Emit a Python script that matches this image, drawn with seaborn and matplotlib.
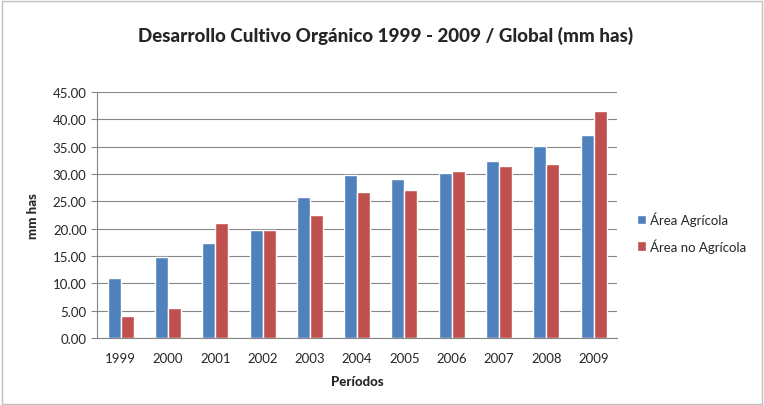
import pandas as pd
import seaborn as sns
import matplotlib.pyplot as plt
from matplotlib.patches import Rectangle

# Datos
periodos = ['1999', '2000', '2001', '2002', '2003', '2004', '2005', '2006', '2007', '2008', '2009']
area_agricola = [11.0, 14.8, 17.4, 19.8, 25.7, 29.8, 29.0, 30.1, 32.4, 35.1, 37.2]
area_no_agricola = [4.0, 5.5, 21.0, 19.8, 22.5, 26.7, 27.0, 30.6, 31.5, 31.8, 41.6]
series = ['Área Agrícola', 'Área no Agrícola']
colores = ['#4F81BD', '#C0504D']

df = pd.DataFrame({
    'Períodos': periodos * 2,
    'valor': area_agricola + area_no_agricola,
    'serie': [series[0]] * len(periodos) + [series[1]] * len(periodos),
})

sns.set_style('white')
plt.rcParams['font.family'] = ['Lato', 'DejaVu Sans']

fig = plt.figure(figsize=(7.64, 4.06), dpi=100)
ax = fig.add_axes([0.127, 0.165, 0.681, 0.606])

sns.barplot(data=df, x='Períodos', y='valor', hue='serie', palette=colores,
            width=0.55, ax=ax, saturation=1, legend=True)

ax.set_ylim(0, 45)
ax.set_yticks(range(0, 46, 5))
ax.set_yticklabels([f'{v:.2f}' for v in range(0, 46, 5)], fontsize=9.5)
ax.tick_params(axis='x', labelsize=9.5, length=0, pad=10)
ax.tick_params(axis='y', length=4, color='#868686', direction='out', left=True)
ax.yaxis.grid(True, color='#868686', linewidth=0.8)
ax.set_axisbelow(True)
for s in ['top', 'right']:
    ax.spines[s].set_visible(False)
ax.spines['left'].set_color('#868686')
ax.spines['bottom'].set_color('#868686')

ax.set_xlabel('Períodos', fontsize=9.5, fontweight='black', labelpad=8)
ax.set_ylabel('mm has', fontsize=9.5, fontweight='black', labelpad=10)

fig.suptitle('Desarrollo Cultivo Orgánico 1999 - 2009 / Global (mm has)',
             x=0.505, y=0.935, fontsize=13.5, fontweight='black')

ax.legend(loc='center left', bbox_to_anchor=(1.015, 0.43), frameon=False,
          fontsize=9.5, handlelength=0.7, handleheight=0.7, handletextpad=0.3,
          labelspacing=0.9)

# marco del gráfico
fig.patches.append(Rectangle((0.002, 0.003), 0.995, 0.993, transform=fig.transFigure,
                             fill=False, edgecolor='#BFBFBF', linewidth=1))

fig.savefig('out.png', dpi=100)
